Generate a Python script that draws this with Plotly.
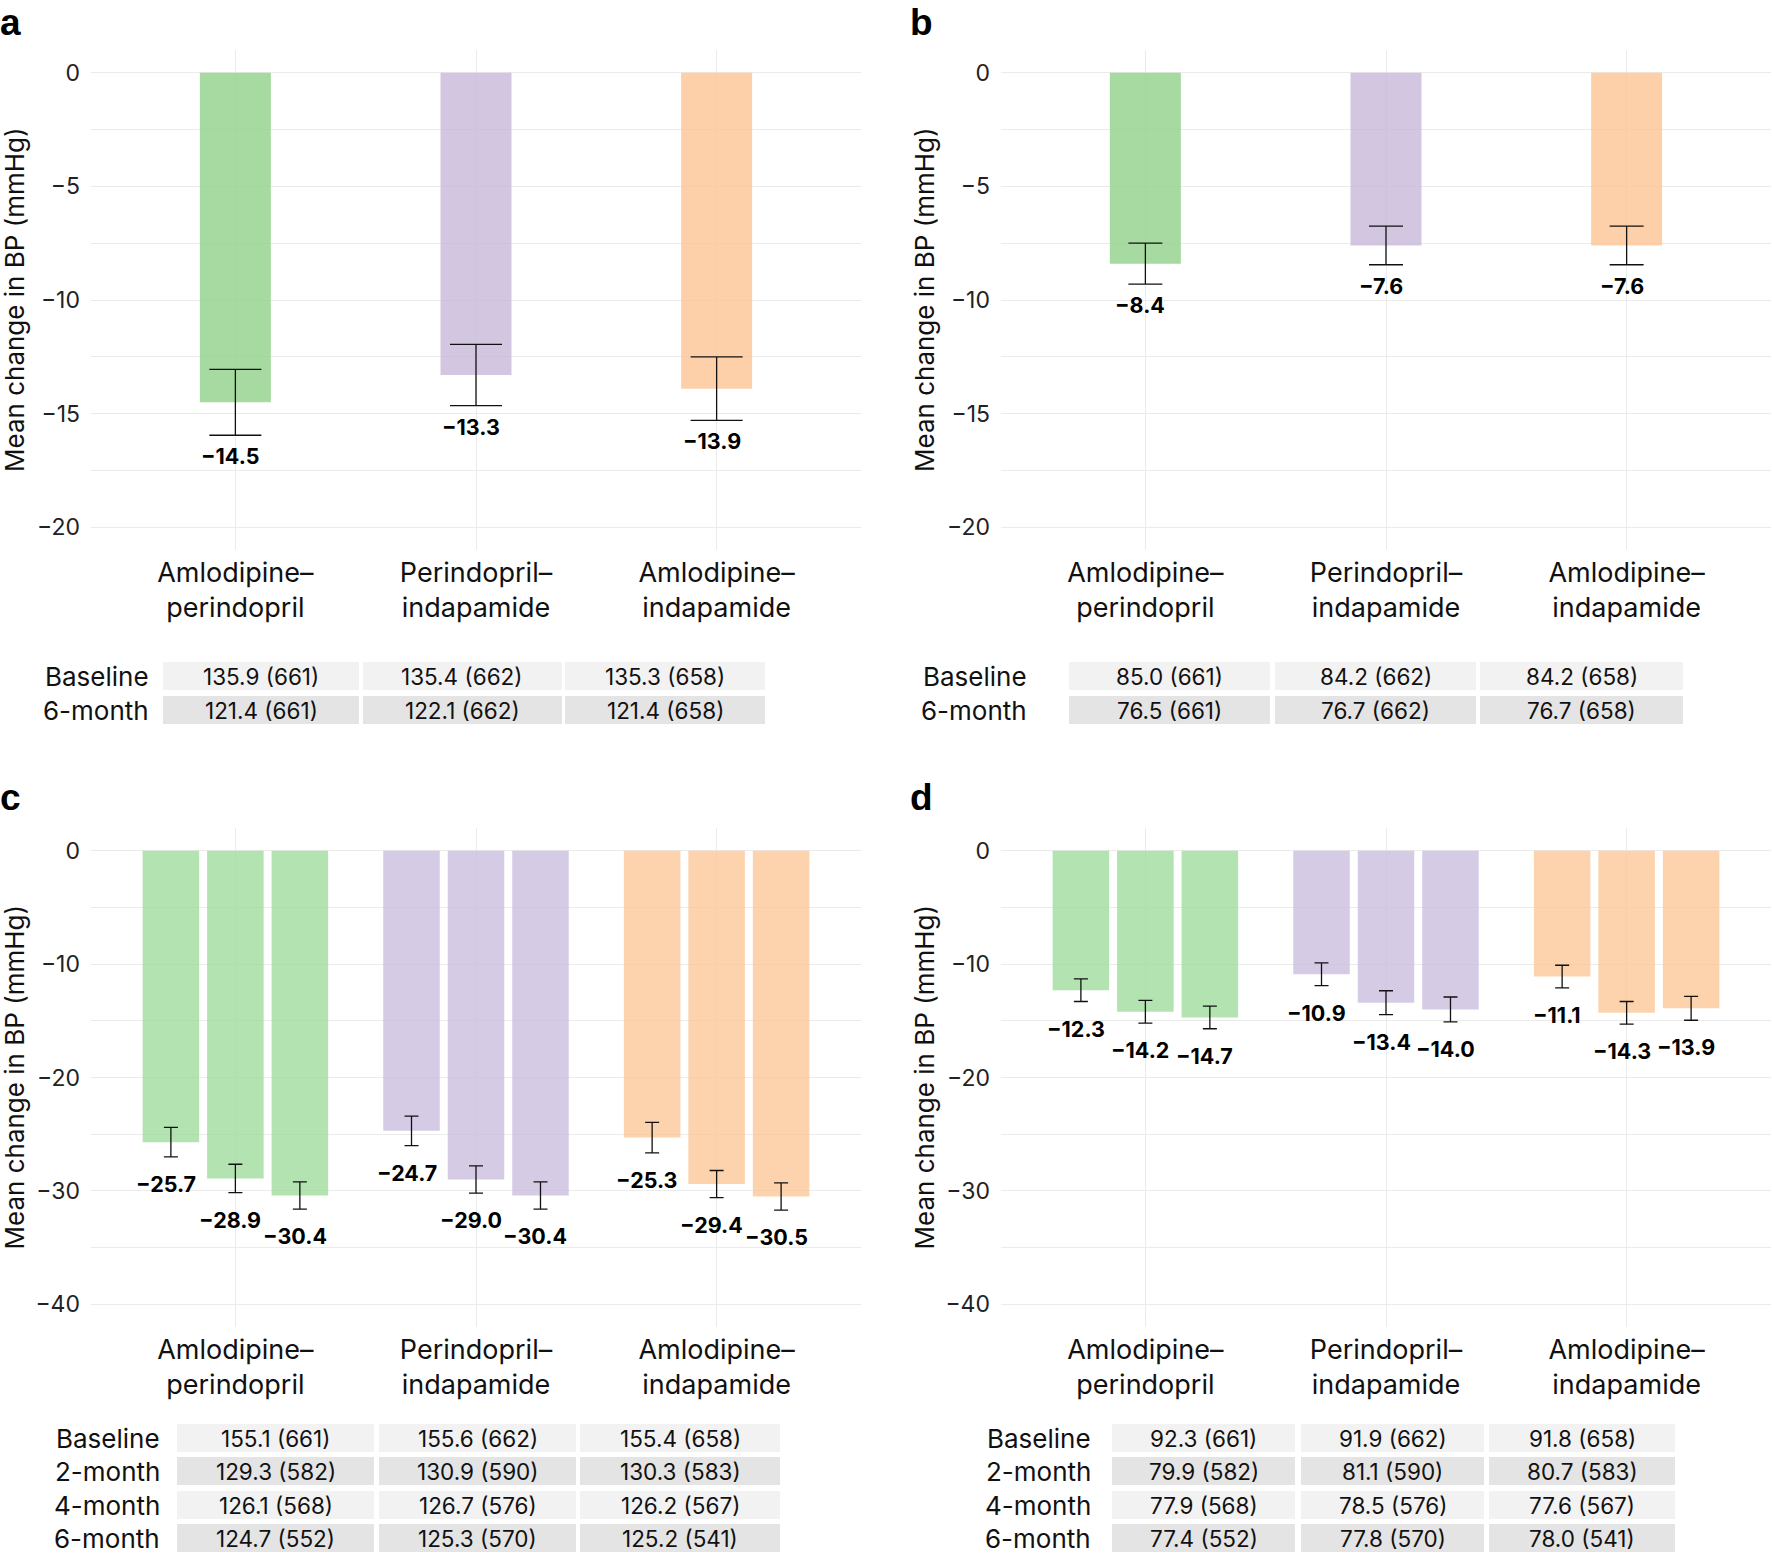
import plotly.graph_objects as go

# ---------------- data ----------------
categories = ["Amlodipine–<br>perindopril", "Perindopril–<br>indapamide", "Amlodipine–<br>indapamide"]

# panel a: systolic BP change at 6 months
sbp_change = [-14.5, -13.3, -13.9]
sbp_err = [1.45, 1.35, 1.4]
# panel b: diastolic BP change at 6 months
dbp_change = [-8.4, -7.6, -7.6]
dbp_err = [0.9, 0.85, 0.85]

# panel c: systolic BP change at 2, 4, 6 months
sbp_2m = [-25.7, -24.7, -25.3]
sbp_4m = [-28.9, -29.0, -29.4]
sbp_6m = [-30.4, -30.4, -30.5]
sbp_2m_err = [1.3, 1.3, 1.35]
sbp_4m_err = [1.25, 1.2, 1.2]
sbp_6m_err = [1.2, 1.2, 1.2]
# panel d: diastolic BP change at 2, 4, 6 months
dbp_2m = [-12.3, -10.9, -11.1]
dbp_4m = [-14.2, -13.4, -14.3]
dbp_6m = [-14.7, -14.0, -13.9]
dbp_2m_err = [1.0, 1.0, 1.0]
dbp_4m_err = [1.0, 1.05, 1.0]
dbp_6m_err = [1.0, 1.1, 1.05]

# tables
table_a_rows = ["Baseline", "6-month"]
table_a = [["135.9 (661)", "135.4 (662)", "135.3 (658)"],
           ["121.4 (661)", "122.1 (662)", "121.4 (658)"]]
table_b_rows = ["Baseline", "6-month"]
table_b = [["85.0 (661)", "84.2 (662)", "84.2 (658)"],
           ["76.5 (661)", "76.7 (662)", "76.7 (658)"]]
table_c_rows = ["Baseline", "2-month", "4-month", "6-month"]
table_c = [["155.1 (661)", "155.6 (662)", "155.4 (658)"],
           ["129.3 (582)", "130.9 (590)", "130.3 (583)"],
           ["126.1 (568)", "126.7 (576)", "126.2 (567)"],
           ["124.7 (552)", "125.3 (570)", "125.2 (541)"]]
table_d_rows = ["Baseline", "2-month", "4-month", "6-month"]
table_d = [["92.3 (661)", "91.9 (662)", "91.8 (658)"],
           ["79.9 (582)", "81.1 (590)", "80.7 (583)"],
           ["77.9 (568)", "78.5 (576)", "77.6 (567)"],
           ["77.4 (552)", "77.8 (570)", "78.0 (541)"]]

# ---------------- styling / layout ----------------
W, H = 1772, 1554
FONT = "Inter, Roboto, sans-serif"
colors_single = ["rgba(152,212,144,0.85)", "rgba(200,184,218,0.8)", "rgba(253,196,148,0.8)"]
colors_multi = ["rgba(160,220,156,0.8)", "rgba(204,190,222,0.8)", "rgba(253,200,154,0.8)"]
GRID = "#ebebeb"


def px_x(x):
    return x / W


def px_y(y):
    return 1 - y / H


def fmt(v):
    return f"{v:.1f}".replace("-", "−")


fig = go.Figure()

panels = {
    "a": dict(ax="", x0=91, x1=861, top=50, bot=550, rng=[-21, 1], major=5, minor=2.5, lo=-20),
    "b": dict(ax="2", x0=1001, x1=1771, top=50, bot=550, rng=[-21, 1], major=5, minor=2.5, lo=-20),
    "c": dict(ax="3", x0=91, x1=861, top=828, bot=1327, rng=[-42, 2], major=10, minor=5, lo=-40),
    "d": dict(ax="4", x0=1001, x1=1771, top=828, bot=1327, rng=[-42, 2], major=10, minor=5, lo=-40),
}

annotations = []
shapes = []

# single-bar panels
for key, vals, errs in [("a", sbp_change, sbp_err), ("b", dbp_change, dbp_err)]:
    p = panels[key]
    xs = list(range(len(vals)))
    fig.add_trace(go.Bar(
        x=xs, y=vals, width=0.295, marker=dict(color=colors_single, line=dict(width=0)),
        error_y=dict(type="data", array=errs, color="#111", thickness=1.3,
                     width=26 if key == "a" else 17),
        xaxis="x" + p["ax"], yaxis="y" + p["ax"], showlegend=False, hoverinfo="skip"))
    for x, v, e in zip(xs, vals, errs):
        annotations.append(dict(x=x, y=v - e, xref="x" + p["ax"], yref="y" + p["ax"],
                                text=f"<b>{fmt(v)}</b>", showarrow=False, yanchor="middle",
                                yshift=-21, xshift=-5, font=dict(size=21.5, color="#000", family=FONT)))

# grouped-bar panels
offsets = [-0.268, 0.0, 0.268]
for key, series, errs in [("c", [sbp_2m, sbp_4m, sbp_6m], [sbp_2m_err, sbp_4m_err, sbp_6m_err]),
                          ("d", [dbp_2m, dbp_4m, dbp_6m], [dbp_2m_err, dbp_4m_err, dbp_6m_err])]:
    p = panels[key]
    for off, vals, err in zip(offsets, series, errs):
        xs = [i + off for i in range(len(vals))]
        fig.add_trace(go.Bar(
            x=xs, y=vals, width=0.235, marker=dict(color=colors_multi, line=dict(width=0)),
            error_y=dict(type="data", array=err, color="#111", thickness=1.3, width=7),
            xaxis="x" + p["ax"], yaxis="y" + p["ax"], showlegend=False, hoverinfo="skip"))
        for x, v, e in zip(xs, vals, err):
            annotations.append(dict(x=x, y=v - e, xref="x" + p["ax"], yref="y" + p["ax"],
                                    text=f"<b>{fmt(v)}</b>", showarrow=False, yanchor="middle",
                                    yshift=-27, xshift=-5, font=dict(size=21.5, color="#000", family=FONT)))

layout = dict(width=W, height=H, margin=dict(l=0, r=0, t=0, b=0),
              paper_bgcolor="white", plot_bgcolor="white", barmode="overlay",
              font=dict(family=FONT, color="#222"))

for key, p in panels.items():
    xa = "xaxis" + p["ax"]
    ya = "yaxis" + p["ax"]
    majors = [float(v) for v in range(0, p["lo"] - 1, -p["major"])]
    minors = []
    v = -p["minor"]
    while v > p["lo"]:
        if v not in majors:
            minors.append(v)
        v -= p["minor"]
    layout[xa] = dict(domain=[px_x(p["x0"]), px_x(p["x1"])], anchor="y" + p["ax"],
                      range=[-0.6, 2.6], tickvals=[0, 1, 2], ticktext=categories,
                      showgrid=True, gridcolor=GRID, gridwidth=1, zeroline=False, showline=False,
                      ticks="", tickfont=dict(size=27, color="#111", family=FONT), fixedrange=True,
                      ticklabelstandoff=4)
    layout[ya] = dict(domain=[px_y(p["bot"]), px_y(p["top"])], anchor="x" + p["ax"],
                      range=p["rng"], tickvals=majors, ticktext=[fmt(m).replace(".0", "") for m in majors],
                      showgrid=True, gridcolor=GRID, gridwidth=1, zeroline=False, showline=False,
                      ticks="", tickfont=dict(size=23, color="#222", family=FONT),
                      minor=dict(tickvals=minors, showgrid=True, gridcolor=GRID, gridwidth=1),
                      ticklabelstandoff=10)
    # y-axis title
    annotations.append(dict(x=px_x(p["x0"] - 77), y=px_y((p["top"] + p["bot"]) / 2), xref="paper", yref="paper",
                            text="Mean change in BP (mmHg)", textangle=-90, showarrow=False,
                            xanchor="center", yanchor="middle", font=dict(size=26, color="#111", family=FONT)))

# panel letters
for letter, x, y in [("a", -2, 0), ("b", 908, 0), ("c", -2, 775), ("d", 908, 775)]:
    annotations.append(dict(x=px_x(x), y=px_y(y), xref="paper", yref="paper", text=f"<b>{letter}</b>",
                            showarrow=False, xanchor="left", yanchor="top",
                            font=dict(size=37, color="#000", family="Liberation Sans, Arial, sans-serif")))

# tables
tables = [
    (table_a_rows, table_a, [(163, 359), (363, 562), (565, 765)], 151, [676, 710]),
    (table_b_rows, table_b, [(1069, 1270), (1275, 1476), (1480, 1683)], 1029, [676, 710]),
    (table_c_rows, table_c, [(177, 374), (379, 576), (580, 780)], 162, [1438, 1471, 1505, 1538]),
    (table_d_rows, table_d, [(1112, 1295), (1301, 1484), (1489, 1675)], 1093, [1438, 1471, 1505, 1538]),
]
for rows, cells, cols, label_right, row_y in tables:
    for r, (rname, rvals, yc) in enumerate(zip(rows, cells, row_y)):
        fill = "#f2f2f2" if r % 2 == 0 else "#e4e4e4"
        annotations.append(dict(x=px_x(label_right), y=px_y(yc), xref="paper", yref="paper", text=rname,
                                showarrow=False, xanchor="right", yanchor="middle",
                                font=dict(size=26, color="#111", family=FONT)))
        for (c0, c1), txt in zip(cols, rvals):
            shapes.append(dict(type="rect", xref="paper", yref="paper",
                               x0=px_x(c0), x1=px_x(c1), y0=px_y(yc + 14), y1=px_y(yc - 14),
                               fillcolor=fill, line=dict(width=0), layer="below"))
            annotations.append(dict(x=px_x((c0 + c1) / 2), y=px_y(yc), xref="paper", yref="paper", text=txt,
                                    showarrow=False, xanchor="center", yanchor="middle",
                                    font=dict(size=22.5, color="#111", family=FONT)))

layout["annotations"] = annotations
layout["shapes"] = shapes
fig.update_layout(**layout)
fig.write_html("out.html", config={"displayModeBar": False},
               post_script="document.body.style.margin='0px';document.body.style.overflow='hidden';")
